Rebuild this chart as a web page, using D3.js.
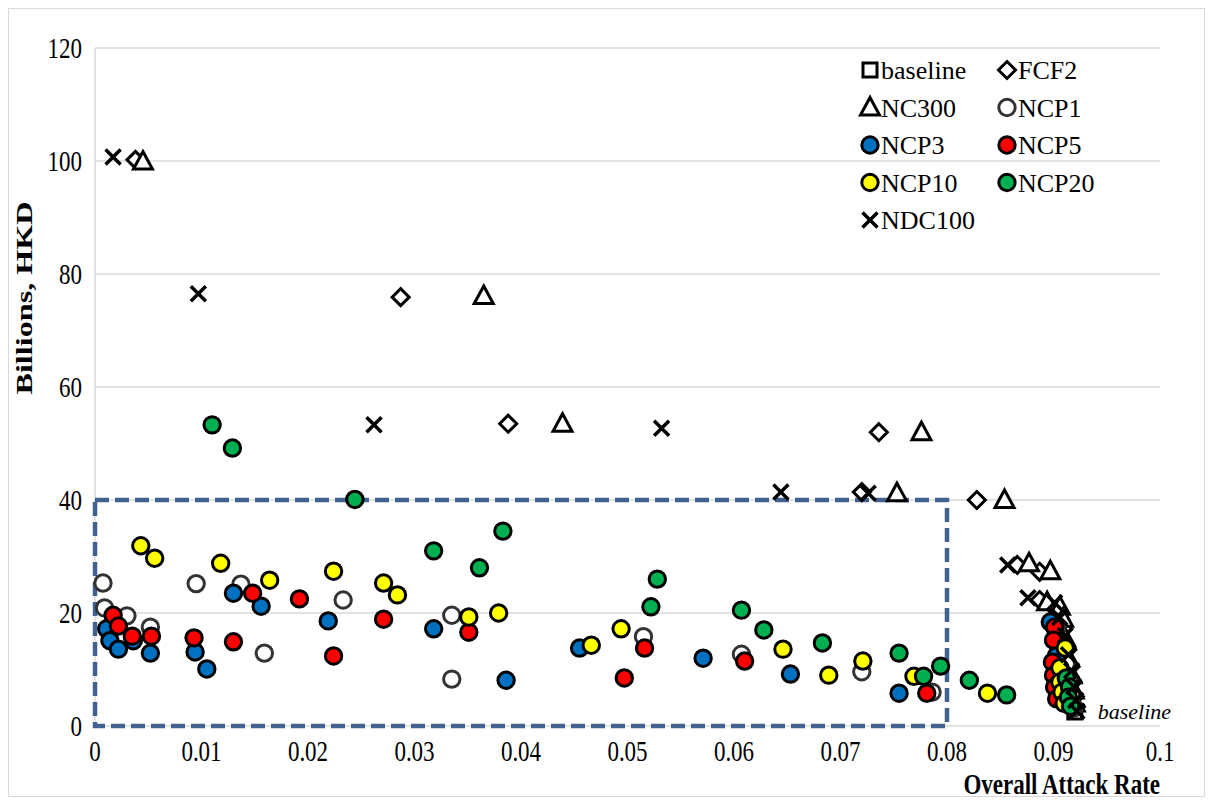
<!DOCTYPE html>
<html>
<head>
<meta charset="utf-8">
<script src="https://cdnjs.cloudflare.com/ajax/libs/d3/7.8.5/d3.min.js"></script>
<style>
  body { margin: 0; background: #fff; }
  svg text { font-family: "Liberation Serif", "Times New Roman", serif; }
</style>
</head>
<body>
<svg class="chart" width="1212" height="805"></svg>
<script>
// values: [attack rate, billions HKD]
var baseline = [[0.0920, 2.5]];
var fcf2 = [[0.0038,100.2],[0.0287,75.9],[0.0388,53.5],[0.0736,52.0],[0.0720,41.4],[0.0828,40.0],
  [0.0866,28.5],[0.0887,27.3],[0.0887,22.3],[0.0904,20.3],[0.0909,17.2],[0.0913,13.5],[0.0916,10.5],
  [0.0918,7.8],[0.0920,5.2],[0.0921,3.4]];
var nc300 = [[0.0045,99.9],[0.0365,76.1],[0.0439,53.5],[0.0776,52.0],[0.0753,41.2],[0.0854,40.0],
  [0.0877,28.8],[0.0897,27.4],[0.0894,21.9],[0.0906,21.1],[0.0909,19.0],[0.0911,15.5],[0.0914,12.0],
  [0.0917,9.0],[0.0919,6.3],[0.0920,4.0]];
var ncp1 = [[0.00075,25.3],[0.0009,20.9],[0.0030,19.5],[0.0052,17.5],[0.0095,25.2],[0.0137,25.1],
  [0.0159,12.9],[0.0233,22.3],[0.0335,19.6],[0.0335,8.3],[0.0515,15.8],[0.0607,12.7],[0.0720,9.6],
  [0.0786,6.0],[0.0903,17.5],[0.0908,14.0],[0.0912,11.0],[0.0915,8.2],[0.0917,5.5],[0.0919,3.2]];
var ncp3 = [[0.0011,17.2],[0.0014,15.1],[0.0022,13.6],[0.0036,15.1],[0.0052,12.9],[0.0094,13.1],
  [0.0105,10.1],[0.0130,23.5],[0.0156,21.2],[0.0219,18.6],[0.0318,17.2],[0.0386,8.1],[0.0455,13.8],
  [0.0571,12.0],[0.0653,9.2],[0.0755,5.8],[0.0897,18.4],[0.0903,12.5],[0.0906,8.0],[0.0909,4.5]];
var ncp5 = [[0.0017,19.6],[0.0022,17.7],[0.0035,15.9],[0.0053,15.9],[0.0093,15.6],[0.0130,14.9],
  [0.0148,23.5],[0.0192,22.5],[0.0224,12.4],[0.0271,18.9],[0.0351,16.6],[0.0497,8.5],[0.0516,13.8],
  [0.0610,11.5],[0.0781,5.8],[0.0901,17.5],[0.0900,15.2],[0.0899,11.3],[0.0900,9.0],[0.0901,6.9],
  [0.0903,4.8]];
var ncp10 = [[0.0043,31.9],[0.0056,29.7],[0.0118,28.8],[0.0164,25.8],[0.0224,27.4],[0.0271,25.3],
  [0.0284,23.2],[0.0351,19.3],[0.0379,20.0],[0.0466,14.3],[0.0494,17.2],[0.0646,13.6],[0.0689,9.0],
  [0.0721,11.5],[0.0769,8.8],[0.0838,5.8],[0.0911,13.8],[0.0906,10.3],[0.0906,7.8],[0.0908,6.0],
  [0.0910,4.0]];
var ncp20 = [[0.0110,53.3],[0.0129,49.2],[0.0244,40.1],[0.0318,31.0],[0.0361,28.0],[0.0383,34.5],
  [0.0522,21.1],[0.0528,26.0],[0.0607,20.5],[0.0628,17.0],[0.0683,14.7],[0.0755,12.9],[0.0778,8.8],
  [0.0794,10.6],[0.0821,8.1],[0.0856,5.5],[0.0912,8.5],[0.0915,6.9],[0.0914,5.1],[0.0916,3.5]];
var ndc100 = [[0.0017,100.7],[0.0097,76.5],[0.0262,53.3],[0.0532,52.7],[0.0644,41.4],[0.0726,41.2],
  [0.0857,28.5],[0.0876,22.7],[0.0901,21.8],[0.0906,19.2],[0.0911,16.0],[0.0914,12.6],[0.0917,9.8],
  [0.0919,7.0],[0.0921,4.5],[0.0922,2.6]];

var xTicks = [0,0.01,0.02,0.03,0.04,0.05,0.06,0.07,0.08,0.09,0.1];
var xTickLabels = ["0","0.01","0.02","0.03","0.04","0.05","0.06","0.07","0.08","0.09","0.1"];
var yTicks = [0,20,40,60,80,100,120];
var highlightBox = [[0,0],[0.08,40]];

var series = [
  {name:"baseline", data:baseline, shape:"square", fill:"#fff"},
  {name:"FCF2", data:fcf2, shape:"diamond", fill:"#fff"},
  {name:"NC300", data:nc300, shape:"triangle", fill:"#fff"},
  {name:"NCP1", data:ncp1, shape:"circle", fill:"#fff", stroke:"#333"},
  {name:"NCP3", data:ncp3, shape:"circle", fill:"#0070C0"},
  {name:"NCP5", data:ncp5, shape:"circle", fill:"#FF0000"},
  {name:"NCP10", data:ncp10, shape:"circle", fill:"#FFFF00"},
  {name:"NCP20", data:ncp20, shape:"circle", fill:"#00B050"},
  {name:"NDC100", data:ndc100, shape:"x", fill:"none"}
];

var svg = d3.select("svg.chart");
var x = d3.scaleLinear().domain([0, 0.1]).range([95, 1160]);
var y = d3.scaleLinear().domain([0, 120]).range([726, 48]);

// outer frame
svg.append("rect").attr("x", 8.5).attr("y", 8.5).attr("width", 1196).attr("height", 788)
  .attr("fill", "none").attr("stroke", "#d9d9d9");

// gridlines
svg.append("g").selectAll("line").data(yTicks).enter().append("line")
  .attr("x1", x(0)).attr("x2", x(0.1))
  .attr("y1", function(d){return y(d)}).attr("y2", function(d){return y(d)})
  .attr("stroke", "#d9d9d9").attr("stroke-width", 1.5);
svg.append("line").attr("x1", x(0)).attr("x2", x(0)).attr("y1", y(0)).attr("y2", y(120))
  .attr("stroke", "#d9d9d9").attr("stroke-width", 1.5);

// tick labels (stretched serif like the original)
svg.append("g").selectAll("text").data(xTicks).enter().append("text")
  .attr("transform", function(d){return "translate(" + x(d) + ",761) scale(1,1.3)"})
  .attr("text-anchor", "middle").attr("font-size", 23)
  .text(function(d,i){return xTickLabels[i]});
svg.append("g").selectAll("text").data(yTicks).enter().append("text")
  .attr("transform", function(d){return "translate(82," + (y(d) + 10) + ") scale(1,1.3)"})
  .attr("text-anchor", "end").attr("font-size", 23)
  .text(function(d){return d});

svg.append("text").attr("transform", "translate(1160,794) scale(1,1.25)")
  .attr("text-anchor", "end").attr("font-size", 23).attr("font-weight", "bold")
  .text("Overall Attack Rate");
svg.append("text").attr("transform", "translate(32,298) rotate(-90) scale(1.4,1)")
  .attr("text-anchor", "middle").attr("font-size", 23).attr("font-weight", "bold")
  .text("Billions, HKD");

// dashed highlight box
svg.append("rect")
  .attr("x", x(highlightBox[0][0])).attr("y", y(highlightBox[1][1]))
  .attr("width", x(highlightBox[1][0]) - x(highlightBox[0][0]))
  .attr("height", y(highlightBox[0][1]) - y(highlightBox[1][1]))
  .attr("fill", "none").attr("stroke", "#41618F").attr("stroke-width", 4.5)
  .attr("stroke-dasharray", "14,6");

function shapePath(shape) {
  if (shape == "square") return "M-7,-7H7V7H-7Z";
  if (shape == "diamond") return "M0,-8.5L8.5,0L0,8.5L-8.5,0Z";
  if (shape == "triangle") return "M0,-10L9.5,7.5L-9.5,7.5Z";
  if (shape == "x") return "M-7.5,-7.5L7.5,7.5M7.5,-7.5L-7.5,7.5";
  return null;
}

function drawMarkers(g, shape, fill, stroke) {
  if (shape == "circle") {
    g.append("circle").attr("r", 8.2).attr("fill", fill)
      .attr("stroke", stroke || "#000").attr("stroke-width", 3);
  } else {
    g.append("path").attr("d", shapePath(shape)).attr("fill", fill)
      .attr("stroke", "#000").attr("stroke-width", shape == "x" ? 3.5 : 3)
      .attr("stroke-linejoin", "miter");
  }
}

series.forEach(function(s) {
  var pts = svg.append("g").attr("class", "series")
    .selectAll("g").data(s.data).enter().append("g")
    .attr("transform", function(d){return "translate(" + x(d[0]) + "," + y(d[1]) + ")"});
  pts.each(function(){ drawMarkers(d3.select(this), s.shape, s.fill, s.stroke); });
});

// label beside the baseline point
svg.append("text").attr("x", x(baseline[0][0]) + 23).attr("y", y(baseline[0][1]) + 7)
  .attr("font-size", 22).attr("font-style", "italic").text("baseline");

// legend, two columns
var legend = svg.append("g").selectAll("g").data(series).enter().append("g")
  .attr("transform", function(d,i){
    return "translate(" + (i%2==0 ? 870 : 1007) + "," + (70 + Math.floor(i/2)*37.5) + ")";
  });
legend.each(function(s){ drawMarkers(d3.select(this), s.shape, s.fill, s.stroke); });
legend.append("text").attr("x", 11).attr("y", 9).attr("font-size", 26)
  .text(function(d){return d.name});
</script>
</body>
</html>
